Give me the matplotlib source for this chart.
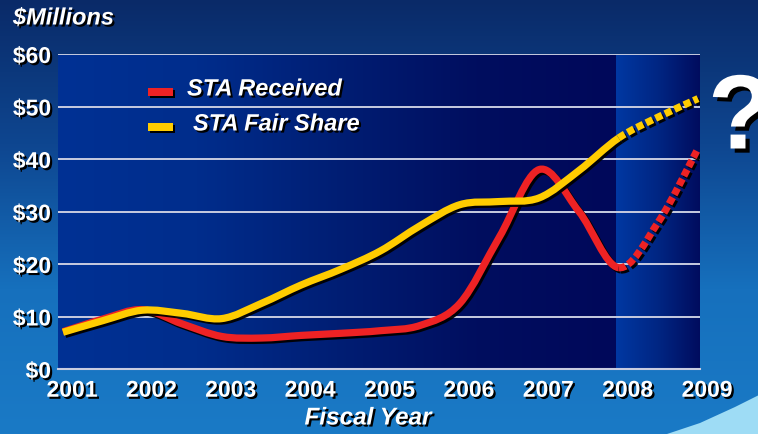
import numpy as np
import matplotlib
matplotlib.use("Agg")
import matplotlib.pyplot as plt
import matplotlib.patheffects as pe
from matplotlib.path import Path
from matplotlib.patches import PathPatch, Polygon
from matplotlib.transforms import ScaledTranslation
from matplotlib.colors import LinearSegmentedColormap

# ---------------- data ----------------
years = [2001.0, 2001.5, 2002.0, 2002.5, 2003.0, 2003.5, 2004.0, 2004.5, 2005.0,
         2005.5, 2006.0, 2006.5, 2007.0, 2007.5, 2008.0, 2008.5, 2009.0]
fair_share = [7.0, 9.2, 11.2, 10.6, 9.6, 12.5, 16.0, 19.0, 22.5,
              27.3, 31.3, 31.9, 32.6, 37.8, 44.0, 48.0, 51.5]
received = [7.1, 9.5, 11.3, 8.6, 6.2, 5.9, 6.4, 6.8, 7.3,
            8.3, 12.5, 25.2, 38.0, 30.0, 19.3, 28.0, 42.0]
projection_start = 2008.0
tick_years = [2001, 2002, 2003, 2004, 2005, 2006, 2007, 2008, 2009]
y_ticks = [0, 10, 20, 30, 40, 50, 60]
y_labels = ["$0", "$10", "$20", "$30", "$40", "$50", "$60"]
series_names = ["STA Received", "STA Fair Share"]
RED = "#ee2224"
YELLOW = "#ffcc00"

W, H, DPI = 758, 435, 100
fig = plt.figure(figsize=(W / DPI, H / DPI), dpi=DPI)

# ---------------- background ----------------
bg = fig.add_axes([0, 0, 1, 1], zorder=0)
bg.set_axis_off()
bg.set_xlim(0, W)
bg.set_ylim(H, 0)
bg_cmap = LinearSegmentedColormap.from_list("bgv", ["#0a2a68", "#0e4690", "#1670bd", "#1a7ac6"])
grad = np.linspace(0, 1, 256).reshape(-1, 1)
bg.imshow(grad, cmap=bg_cmap, aspect="auto", extent=[0, W, H, 0], zorder=0)
swoosh = Polygon([[664, 436], [700, 424], [735, 408], [759, 396], [759, 436]],
                 closed=True, facecolor="#9edcf5", edgecolor="none", zorder=1)
bg.add_patch(swoosh)

# ---------------- main axes ----------------
left, right, top, bottom = 58, 700, 55, 370
ax = fig.add_axes([left / W, 1 - bottom / H, (right - left) / W, (bottom - top) / H], zorder=2)
px_per_year = 79.375
x0 = 2001 - 5 / px_per_year
x1 = 2009 + 2 / px_per_year

band_x = 2001 + (616 - 63) / px_per_year
cm1 = LinearSegmentedColormap.from_list("p1", ["#003194", "#002d8c", "#001e74", "#000e5f", "#00085a"])
cm2 = LinearSegmentedColormap.from_list("p2", ["#0038a2", "#002683", "#000c5e"])
hgrad = np.linspace(0, 1, 256).reshape(1, -1)
ax.imshow(hgrad, cmap=cm1, aspect="auto", extent=[x0, band_x, 0, 60], zorder=0)
ax.imshow(hgrad, cmap=cm2, aspect="auto", extent=[band_x, x1, 0, 60], zorder=0)
ax.set_xlim(x0, x1)
ax.set_ylim(0, 60)

for s in ["top", "right", "left"]:
    ax.spines[s].set_visible(False)
ax.spines["bottom"].set_color("#c8cce0")
ax.spines["bottom"].set_linewidth(1.5)
ax.grid(axis="y", color="#c8cce0", linewidth=1.4, zorder=1)
ax.set_axisbelow(False)
ax.grid(axis="x", visible=False)

txt_shadow = [pe.withSimplePatchShadow(offset=(1.5, -1.5), shadow_rgbFace="black", alpha=1.0)]
tick_font = dict(family="Liberation Sans", weight="bold", size=16.5, color="white")

ax.set_yticks(y_ticks)
ax.set_yticklabels(y_labels, **tick_font)
ax.set_xticks(tick_years)
ax.set_xticklabels([str(t) for t in tick_years], **tick_font)
ax.tick_params(axis="both", length=0)
ax.tick_params(axis="y", pad=5)
ax.tick_params(axis="x", pad=7)
shift = ScaledTranslation(9 / DPI, 0, fig.dpi_scale_trans)
for lab in ax.get_xticklabels():
    lab.set_transform(lab.get_transform() + shift)
    lab.set_path_effects(txt_shadow)
for lab in ax.get_yticklabels():
    lab.set_path_effects(txt_shadow)


# ---------------- smooth curves ----------------
def bezier_path(xs, ys, i0, i1):
    pts = np.column_stack([xs, ys])
    n = len(pts)
    verts = [pts[i0]]
    codes = [Path.MOVETO]
    for i in range(i0, i1):
        p0 = pts[max(i - 1, 0)]
        p1 = pts[i]
        p2 = pts[i + 1]
        p3 = pts[min(i + 2, n - 1)]
        c1 = p1 + (p2 - p0) / 6.0
        c2 = p2 - (p3 - p1) / 6.0
        verts += [c1, c2, p2]
        codes += [Path.CURVE4] * 3
    return Path(np.array(verts), codes)


split = years.index(projection_start)
line_shadow = [pe.SimpleLineShadow(offset=(1.6, -1.6), shadow_color="black", alpha=0.95), pe.Normal()]
lw = 5.2
for vals, color, z in [(received, RED, 4), (fair_share, YELLOW, 5)]:
    solid = PathPatch(bezier_path(years, vals, 0, split), fill=False, edgecolor=color,
                      linewidth=lw, capstyle="butt", joinstyle="round", zorder=z)
    solid.set_path_effects(line_shadow)
    ax.add_patch(solid)
    dotted = PathPatch(bezier_path(years, vals, split, len(years) - 1), fill=False,
                       edgecolor=color, linewidth=lw, capstyle="butt",
                       linestyle=(0, (1.0, 0.45)), zorder=z)
    dotted.set_path_effects(line_shadow)
    ax.add_patch(dotted)

# ---------------- overlay texts & legend ----------------
overlay = fig.add_axes([0, 0, 1, 1], zorder=3)
overlay.set_axis_off()
overlay.set_xlim(0, W)
overlay.set_ylim(H, 0)

leg_font = dict(family="Liberation Sans", weight="bold", style="italic", size=17, color="white")
for (name, color, ty, tx) in [(series_names[0], RED, 93, 187), (series_names[1], YELLOW, 128, 193)]:
    overlay.add_patch(plt.Rectangle((150, ty - 4 + 2), 25, 8, facecolor="black", edgecolor="none", zorder=5))
    overlay.add_patch(plt.Rectangle((148, ty - 4), 25, 8, facecolor=color, edgecolor="none", zorder=6))
    overlay.text(tx, ty - 3, name, ha="left", va="center", path_effects=txt_shadow, zorder=7, **leg_font)

overlay.text(13, 19, "$Millions", ha="left", va="center", path_effects=txt_shadow, **leg_font)
overlay.text(368, 419, "Fiscal Year", ha="center", va="center", path_effects=txt_shadow,
             **dict(leg_font, size=17.5))
overlay.text(708, 122, "?", ha="left", va="center", family="Liberation Sans", weight="bold",
             size=76, color="white",
             path_effects=[pe.withSimplePatchShadow(offset=(3, -3), shadow_rgbFace="black", alpha=1.0)])

fig.savefig("out.png", dpi=DPI)
